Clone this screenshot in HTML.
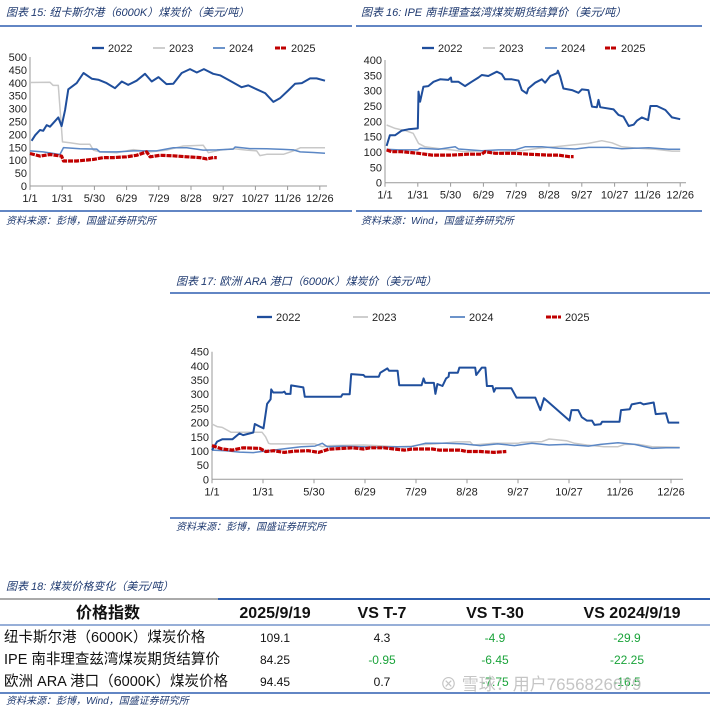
<!DOCTYPE html>
<html><head><meta charset="utf-8">
<style>
html,body{margin:0;padding:0;background:#fff;}
svg{display:block;font-family:"Liberation Sans","Noto Sans CJK SC",sans-serif;}
.ttl{font-size:11px;font-style:italic;fill:#1f3a70;}
.src{font-size:10px;font-style:italic;fill:#1f3a70;}
.tk{font-size:11px;fill:#222;}
.lg{font-size:11px;fill:#222;}
.th{font-size:16px;font-weight:bold;fill:#111;}
.rl{font-size:14.5px;fill:#111;}
.num{font-size:12px;fill:#111;}
.neg{font-size:12px;fill:#1aa33a;}
</style></head>
<body>
<svg id="root" width="710" height="707" viewBox="0 0 710 707">
<g>
<text class="ttl" x="6" y="16">图表 15:  纽卡斯尔港（6000K）煤炭价（美元/吨）</text>
<line x1="0" y1="26" x2="352" y2="26" stroke="#2f5fb0" stroke-width="1.5"/>
<line x1="0" y1="211" x2="352" y2="211" stroke="#2f5fb0" stroke-width="1.5"/>
<text class="src" x="6" y="224">资料来源：彭博，国盛证券研究所</text>
<g id="c1"></g>
</g>
<g>
<text class="ttl" x="361" y="16">图表 16:  IPE 南非理查兹湾煤炭期货结算价（美元/吨）</text>
<line x1="356" y1="26" x2="702" y2="26" stroke="#2f5fb0" stroke-width="1.5"/>
<line x1="356" y1="211" x2="702" y2="211" stroke="#2f5fb0" stroke-width="1.5"/>
<text class="src" x="361" y="224">资料来源：Wind，国盛证券研究所</text>
<g id="c2"></g>
</g>
<g>
<text class="ttl" x="176" y="285">图表 17:  欧洲 ARA 港口（6000K）煤炭价（美元/吨）</text>
<line x1="170" y1="293" x2="710" y2="293" stroke="#2f5fb0" stroke-width="1.5"/>
<line x1="170" y1="518" x2="710" y2="518" stroke="#2f5fb0" stroke-width="1.5"/>
<text class="src" x="176" y="530">资料来源：彭博，国盛证券研究所</text>
<g id="c3"></g>
</g>
<g>
<text class="ttl" x="6" y="590">图表 18:  煤炭价格变化（美元/吨）</text>
<line x1="0" y1="599" x2="218" y2="599" stroke="#555" stroke-width="1"/>
<line x1="218" y1="599" x2="710" y2="599" stroke="#2f5fb0" stroke-width="2"/>
<line x1="0" y1="625" x2="710" y2="625" stroke="#2f5fb0" stroke-width="1"/>
<line x1="0" y1="693" x2="710" y2="693" stroke="#2f5fb0" stroke-width="1.5"/>
<g text-anchor="middle">
<text class="th" x="108" y="618">价格指数</text>
<text class="th" x="275" y="618">2025/9/19</text>
<text class="th" x="382" y="618">VS T-7</text>
<text class="th" x="495" y="618">VS T-30</text>
<text class="th" x="632" y="618">VS 2024/9/19</text>
</g>
<g>
<text class="rl" x="4" y="642">纽卡斯尔港（6000K）煤炭价格</text>
<text class="num" x="275" y="642" text-anchor="middle">109.1</text>
<text class="num" x="382" y="642" text-anchor="middle">4.3</text>
<text class="neg" x="495" y="642" text-anchor="middle">-4.9</text>
<text class="neg" x="627" y="642" text-anchor="middle">-29.9</text>
</g>
<g>
<text class="rl" x="4" y="664">IPE 南非理查兹湾煤炭期货结算价</text>
<text class="num" x="275" y="664" text-anchor="middle">84.25</text>
<text class="neg" x="382" y="664" text-anchor="middle">-0.95</text>
<text class="neg" x="495" y="664" text-anchor="middle">-6.45</text>
<text class="neg" x="627" y="664" text-anchor="middle">-22.25</text>
</g>
<g>
<text class="rl" x="4" y="686">欧洲 ARA 港口（6000K）煤炭价格</text>
<text class="num" x="275" y="686" text-anchor="middle">94.45</text>
<text class="num" x="382" y="686" text-anchor="middle">0.7</text>
<text class="neg" x="495" y="686" text-anchor="middle">-7.75</text>
<text class="neg" x="627" y="686" text-anchor="middle">-16.5</text>
</g>
<text class="src" x="6" y="704">资料来源：彭博，Wind，国盛证券研究所</text>
<text x="440" y="690" font-size="17" fill="#bbb" opacity="0.85">⊗ 雪球：用户7656826679</text>
</g>
</svg>
<script>
const xTickLabels = ["1/1","1/31","5/30","6/29","7/29","8/28","9/27","10/27","11/26","12/26"];
const legendYears = ["2022","2023","2024","2025"];

const c1_2022_t = [.05,.16,.31,.41,.52,.62,.88,.98,1.09,1.19,1.45,1.66,1.92,2.12,2.38,2.64,2.85,3.05,3.31,3.57,3.78,3.99,4.24,4.45,4.71,4.97,5.18,5.40,5.69,5.90,6.21,6.57,6.78,7.04,7.30,7.56,7.76,8.02,8.23,8.44,8.70,8.90,9.16];
const c1_2022_v = [175,197,217,214,236,230,266,232,295,375,399,438,416,412,399,379,405,392,408,435,405,422,395,396,438,453,440,453,435,429,408,383,390,375,360,326,340,370,396,399,417,417,408];
const c1_2023_t = [0,.62,.72,.88,1.01,1.24,1.55,1.86,1.97,2.17,2.69,3.21,3.73,4.24,4.76,5.38,5.54,5.90,6.31,6.73,7.04,7.14,7.35,7.87,8.18,8.39,9.16];
const c1_2023_v = [401,402,390,390,171,168,162,162,139,132,129,141,132,139,155,158,129,139,145,139,136,118,123,123,136,148,148];
const c1_2024_t = [0,.41,.93,1.04,1.55,2.07,2.17,2.69,3.21,3.93,4.45,4.87,5.38,5.80,6.31,6.37,6.83,7.35,7.87,8.18,8.39,8.80,9.16];
const c1_2024_v = [136,132,122,149,144,143,132,132,136,136,148,148,139,140,143,151,145,144,142,140,132,130,127];
const c1_2025_t = [0,.31,.62,.98,1.04,1.45,1.97,2.28,2.59,3.00,3.31,3.62,3.73,4.04,4.45,4.87,5.28,5.49,5.69,5.80];
const c1_2025_v = [126,116,122,116,97,97,103,110,110,113,119,132,113,119,117,113,110,105,110,110];
const c1_yTicks = [0,50,100,150,200,250,300,350,400,450,500];

const c2_2022_t = [.05,.15,.31,.51,.71,1.00,1.02,1.07,1.17,1.32,1.48,1.68,1.93,2.01,2.03,2.24,2.44,2.64,2.85,2.95,3.15,3.41,3.56,3.66,3.87,4.07,4.17,4.32,4.37,4.58,4.78,4.88,5.04,5.24,5.27,5.34,5.44,5.70,5.90,6.00,6.20,6.31,6.46,6.51,6.56,6.97,7.12,7.27,7.43,7.58,7.68,7.83,8.02,8.09,8.29,8.55,8.75,9.00];
const c2_2022_v = [120,155,155,170,174,177,297,264,313,315,329,337,335,343,329,329,315,329,343,351,348,362,354,337,337,333,302,291,307,326,337,326,348,357,365,346,307,302,293,304,302,248,246,270,246,239,221,215,185,189,202,213,204,250,250,237,213,207];
const c2_2023_t = [.05,.31,.61,.86,1.02,1.22,1.73,2.03,2.44,2.95,3.36,3.66,4.17,4.68,5.19,5.70,6.20,6.61,6.92,7.22,7.73,8.24,8.75,9.00];
const c2_2023_v = [188,177,170,161,128,117,110,107,101,104,96,101,104,112,117,123,128,137,130,117,112,109,103,103];
const c2_2024_t = [.05,.41,1.00,1.07,1.63,2.14,2.24,2.95,3.46,3.97,4.27,4.78,5.29,5.80,6.21,6.82,7.22,8.04,8.65,9.00];
const c2_2024_v = [109,107,107,112,109,117,110,104,107,107,117,117,112,110,115,115,111,114,109,109];
const c2_2025_t = [.05,.20,.51,1.02,1.42,2.03,2.54,2.95,3.05,3.36,3.97,4.37,4.98,5.29,5.60,5.75];
const c2_2025_v = [107,101,101,96,90,90,93,93,101,96,96,93,90,90,85,85];
const c2_yTicks = [0,50,100,150,200,250,300,350,400];

const c3_2022_t = [0,.10,.20,.40,.54,.61,.81,.84,.94,1.01,1.08,1.15,1.16,1.20,1.38,1.42,1.45,1.54,1.55,1.79,1.82,2.53,2.56,2.70,2.73,2.97,3.00,3.27,3.30,3.44,3.47,3.64,3.67,4.11,4.15,4.18,4.35,4.38,4.42,4.52,4.59,4.64,4.65,4.82,4.85,5.16,5.18,5.29,5.36,5.39,5.50,5.53,5.56,5.87,5.97,6.34,6.44,6.51,7.01,7.05,7.18,7.25,7.35,7.45,7.50,7.62,7.65,7.99,8.02,8.19,8.23,8.40,8.46,8.66,8.70,8.90,8.95,9.16];
const c3_2022_v = [103,133,141,141,162,156,165,195,186,180,266,282,317,306,306,309,301,301,331,324,291,291,300,300,371,368,362,362,376,391,383,383,332,332,356,340,340,301,336,329,356,362,376,376,394,394,368,394,394,329,329,309,321,321,288,288,244,286,207,244,244,219,207,207,192,194,203,203,244,247,264,270,264,271,230,233,200,200];
const c3_2023_t = [0,.10,.20,.37,.98,1.05,1.11,1.15,2.02,2.16,2.29,2.97,3.64,3.91,4.05,4.38,4.79,5.06,5.12,5.53,6.00,6.07,6.47,6.61,6.95,7.11,7.35,7.69,7.96,8.09,8.36,8.63,9.17];
const c3_2023_v = [195,186,183,166,166,150,127,125,125,115,119,121,115,117,121,125,132,132,121,127,127,130,133,142,136,127,121,115,115,123,123,115,113];
const c3_2024_t = [0,.27,.54,.81,1.08,1.21,1.48,1.75,2.02,2.16,2.26,2.56,3.24,3.57,3.91,4.18,4.59,4.92,5.26,5.60,5.93,6.27,6.61,6.95,7.38,7.62,7.96,8.29,8.63,8.90,9.17];
const c3_2024_v = [103,101,96,94,101,103,109,115,117,127,115,117,113,115,115,127,127,125,119,125,119,127,121,123,117,123,129,123,109,111,111];
const c3_2025_t = [0,.20,.40,.61,.94,1.05,1.21,1.42,1.62,1.89,2.09,2.29,2.56,2.76,2.97,3.10,3.37,3.57,3.78,3.91,4.05,4.32,4.45,4.72,4.86,4.99,5.26,5.53,5.77];
const c3_2025_v = [119,107,103,111,109,98,101,95,99,101,95,106,109,111,107,111,111,107,103,106,107,107,103,103,103,98,98,95,98];
const c3_yTicks = [0,50,100,150,200,250,300,350,400,450];

const NS = "http://www.w3.org/2000/svg";
const styles = {
  "2022": {c:"#1f4e9c", w:2, d:null},
  "2023": {c:"#c8c8c8", w:1.5, d:null},
  "2024": {c:"#5b87c5", w:1.5, d:null},
  "2025": {c:"#c00000", w:3.2, d:"5 1"}
};
function mk(tag, attrs, parent){
  const e = document.createElementNS(NS, tag);
  for (const k in attrs) e.setAttribute(k, attrs[k]);
  parent.appendChild(e);
  return e;
}
function drawChart(g, cfg){
  const xs = t => cfg.x0 + t*cfg.dx;
  const ys = v => cfg.y0 - v*(cfg.y0-cfg.yTop)/cfg.yMax;
  cfg.yTicks.forEach(v => {
    const t = mk("text", {class:"tk", x:cfg.x0-3, y:ys(v)+4, "text-anchor":"end"}, g);
    
    
    t.textContent = v;
  });
  const ya = mk("line", {x1:cfg.x0, y1:cfg.yTop, x2:cfg.x0, y2:cfg.y0, stroke:"#999", "stroke-width":1}, g);
  
  
  const xa = mk("line", {x1:cfg.x0, y1:cfg.y0, x2:cfg.xEnd, y2:cfg.y0, stroke:"#999", "stroke-width":1}, g);
  
  
  xTickLabels.forEach((lab, i) => {
    const tm = mk("line", {x1:xs(i), y1:cfg.y0, x2:xs(i), y2:cfg.y0+4, stroke:"#999"}, g);
    
    
    const t = mk("text", {class:"tk", x:xs(i), y:cfg.y0+16, "text-anchor":"middle"}, g);
    
    
    t.textContent = lab;
  });
  cfg.series.forEach(s => {
    const st = styles[s.name];
    const n = Math.min(s.t.length, s.v.length);
    let d = "";
    for (let i=0;i<n;i++) d += (i?"L":"M") + xs(s.t[i]).toFixed(1) + " " + ys(s.v[i]).toFixed(1);
    const p = mk("path", {d:d, fill:"none", stroke:st.c, "stroke-width":st.w, "stroke-linejoin":"round"}, g);
    if (st.d) p.setAttribute("stroke-dasharray", st.d);
    
    
  });
  legendYears.forEach((yr, i) => {
    const lx = cfg.legX[i], st = styles[yr];
    const ll = mk("line", {x1:lx, y1:cfg.legY, x2:lx+cfg.legLen, y2:cfg.legY, stroke:st.c, "stroke-width":st.w>3?3:st.w+0.3}, g);
    if (st.d) ll.setAttribute("stroke-dasharray", st.d);
    
    
    const lt = mk("text", {class:"lg", x:lx+cfg.legLen+4, y:cfg.legY+4}, g);
    
    
    lt.textContent = yr;
  });
}
drawChart(document.getElementById("c1"), {
  x0:30, dx:32.2, xEnd:327, y0:186, yTop:57, yMax:500, yTicks:c1_yTicks,
  legY:48, legX:[92,153,213,275], legLen:12,
  series:[{name:"2023",t:c1_2023_t,v:c1_2023_v},{name:"2024",t:c1_2024_t,v:c1_2024_v},{name:"2022",t:c1_2022_t,v:c1_2022_v},{name:"2025",t:c1_2025_t,v:c1_2025_v}]
});
drawChart(document.getElementById("c2"), {
  x0:385, dx:32.8, xEnd:686, y0:182.7, yTop:60, yMax:400, yTicks:c2_yTicks,
  legY:48, legX:[422,483,545,605], legLen:12,
  series:[{name:"2023",t:c2_2023_t,v:c2_2023_v},{name:"2024",t:c2_2024_t,v:c2_2024_v},{name:"2022",t:c2_2022_t,v:c2_2022_v},{name:"2025",t:c2_2025_t,v:c2_2025_v}]
});
drawChart(document.getElementById("c3"), {
  x0:212, dx:51, xEnd:683, y0:479.3, yTop:351.7, yMax:450, yTicks:c3_yTicks,
  legY:317, legX:[257,353,450,546], legLen:15,
  series:[{name:"2023",t:c3_2023_t,v:c3_2023_v},{name:"2024",t:c3_2024_t,v:c3_2024_v},{name:"2022",t:c3_2022_t,v:c3_2022_v},{name:"2025",t:c3_2025_t,v:c3_2025_v}]
});
</script>
</body></html>
